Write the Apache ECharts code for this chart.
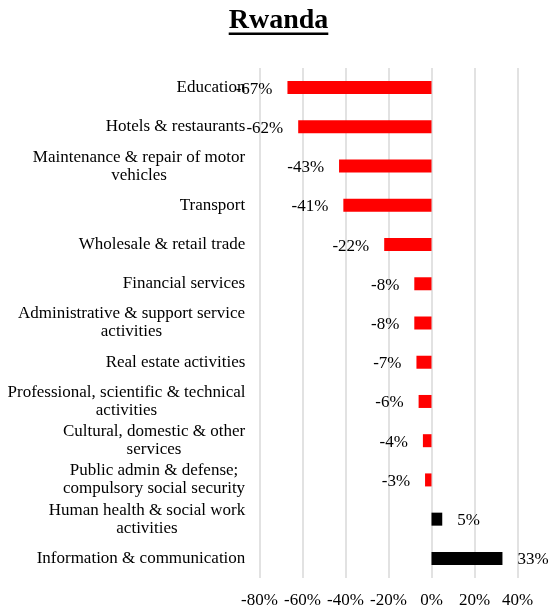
<!DOCTYPE html>
<html>
<head>
<meta charset="utf-8">
<script src="https://cdn.jsdelivr.net/npm/echarts@6/dist/echarts.min.js"></script>
<style>
  html, body { margin: 0; padding: 0; background: #ffffff; }
  #chart { width: 557px; height: 610px; }
</style>
</head>
<body>
<div id="chart"></div>
<script>
// Change in employment by sector, Rwanda (%)
const titleText = 'Rwanda';
const categories = [
  'Education',
  'Hotels & restaurants',
  'Maintenance & repair of motor\nvehicles',
  'Transport',
  'Wholesale & retail trade',
  'Financial services',
  'Administrative & support service\nactivities',
  'Real estate activities',
  'Professional, scientific & technical\nactivities',
  'Cultural, domestic & other\nservices',
  'Public admin & defense;\ncompulsory social security',
  'Human health & social work\nactivities',
  'Information & communication'
];
const values = [-67, -62, -43, -41, -22, -8, -8, -7, -6, -4, -3, 5, 33];
const axisMin = -80;
const axisMax = 40;
const axisStep = 20;

const FONT = '"Liberation Serif", "Times New Roman", serif';
const FONT_SIZE = 17;
const TITLE_SIZE = 28;
const PAGE_W = 557;

// measure each category's widest line so wrapped lines can be centred within their block
const ctx = document.createElement('canvas').getContext('2d');
ctx.font = FONT_SIZE + 'px ' + FONT;
const rich = {};
categories.forEach((c, i) => {
  const w = Math.max(...c.split('\n').map(s => ctx.measureText(s).width));
  rich['c' + i] = { width: Math.ceil(w), align: 'center', fontFamily: FONT, fontSize: FONT_SIZE, lineHeight: 18, color: '#000' };
});

// title width, for the underline
ctx.font = 'bold ' + TITLE_SIZE + 'px ' + FONT;
const titleWidth = ctx.measureText(titleText).width;

const barData = values.map(v => ({
  value: v,
  itemStyle: { color: v < 0 ? '#ff0000' : '#000000' },
  label: { position: v < 0 ? 'left' : 'right' }
}));

const chart = echarts.init(document.getElementById('chart'));
chart.setOption({
  animation: false,
  title: {
    text: titleText,
    left: 'center',
    top: 7,
    padding: 0,
    textStyle: { fontFamily: FONT, fontSize: TITLE_SIZE, fontWeight: 'bold', color: '#000' }
  },
  graphic: [{
    type: 'rect',
    shape: { x: (PAGE_W - titleWidth) / 2, y: 32.5, width: titleWidth, height: 2.5 },
    style: { fill: '#000' }
  }],
  grid: { left: 259.5, right: 39.5, top: 68, bottom: 32, containLabel: false },
  xAxis: {
    type: 'value',
    min: axisMin,
    max: axisMax,
    interval: axisStep,
    axisLine: { show: false },
    axisTick: { show: false },
    splitLine: { show: true, lineStyle: { color: '#d9d9d9', width: 1.5 } },
    axisLabel: {
      formatter: '{value}%',
      margin: 14,
      fontFamily: FONT,
      fontSize: FONT_SIZE,
      color: '#000'
    }
  },
  yAxis: {
    type: 'category',
    inverse: true,
    data: categories,
    axisLine: { show: false },
    axisTick: { show: false },
    axisLabel: {
      margin: 14,
      align: 'right',
      formatter: (v, i) => '{c' + i + '|' + v + '}',
      rich: rich
    }
  },
  series: [{
    type: 'bar',
    data: barData,
    barWidth: 13,
    label: {
      show: true,
      distance: 15,
      offset: [0, 1.5],
      formatter: p => p.value + '%',
      fontFamily: FONT,
      fontSize: FONT_SIZE,
      color: '#000'
    }
  }]
});
</script>
</body>
</html>
